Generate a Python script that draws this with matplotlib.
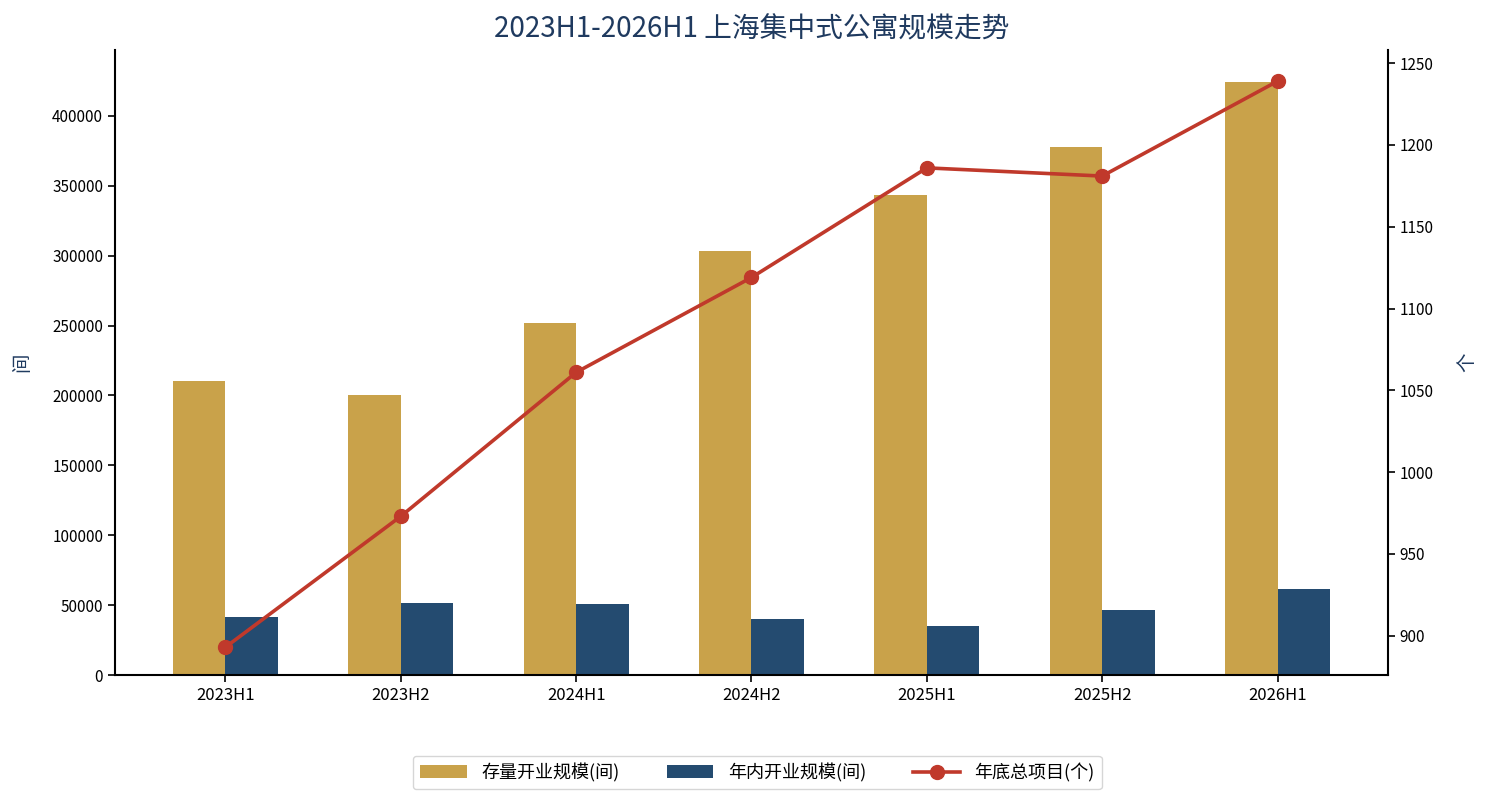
import matplotlib.pyplot as plt
import numpy as np

plt.rcParams['font.family'] = ['Noto Sans CJK SC', 'DejaVu Sans']

# data
periods = ['2023H1', '2023H2', '2024H1', '2024H2', '2025H1', '2025H2', '2026H1']
stock_rooms = [210000, 200000, 252000, 303000, 343000, 378000, 424000]
new_rooms = [41500, 51500, 50800, 40000, 35000, 46500, 61500]
total_projects = [893, 973, 1061, 1119, 1186, 1181, 1239]

gold = '#C9A24A'
navy = '#244B70'
red = '#C0392B'
title_color = '#1F3A5F'

fig = plt.figure(figsize=(14.85, 8.08), dpi=100)
ax = fig.add_axes([0.0774, 0.1646, 0.8573, 0.7734])
ax2 = ax.twinx()

x = np.arange(len(periods))
w = 0.3
b1 = ax.bar(x - w / 2, stock_rooms, w, color=gold, label='存量开业规模(间)', zorder=2)
b2 = ax.bar(x + w / 2, new_rooms, w, color=navy, label='年内开业规模(间)', zorder=2)
l1, = ax2.plot(x, total_projects, color=red, linewidth=2.6, marker='o',
               markersize=10, label='年底总项目(个)', zorder=3)

ax.set_xlim(-0.63, 6.63)
ax.set_ylim(0, 447000)
ax2.set_ylim(876, 1258)
ax.set_xticks(x)
ax.set_xticklabels(periods)
ax.set_yticks(np.arange(0, 400001, 50000))
ax2.set_yticks(np.arange(900, 1251, 50))

for a in (ax, ax2):
    a.spines['top'].set_visible(False)
    a.tick_params(axis='both', labelsize=11, length=5, width=1.2)
ax.tick_params(axis='x', labelsize=12)
ax.spines['right'].set_visible(False)
ax2.spines['left'].set_visible(False)
ax2.spines['bottom'].set_visible(False)
for s in ('left', 'bottom'):
    ax.spines[s].set_linewidth(1.5)
ax2.spines['right'].set_linewidth(1.5)

ax.set_ylabel('间', fontsize=14, color=title_color, labelpad=14)
ax2.set_ylabel('个', fontsize=14, color=title_color, labelpad=16)

fig.text(0.506, 0.963, '2023H1-2026H1 上海集中式公寓规模走势', fontsize=20,
         color=title_color, ha='center', va='center')

fig.legend([b1, b2, l1], [b1.get_label(), b2.get_label(), l1.get_label()],
           loc='lower center', bbox_to_anchor=(0.51, 0.012), ncol=3,
           fontsize=13, frameon=True, columnspacing=2.6, handlelength=2.6)

fig.savefig('out.png', dpi=100)
